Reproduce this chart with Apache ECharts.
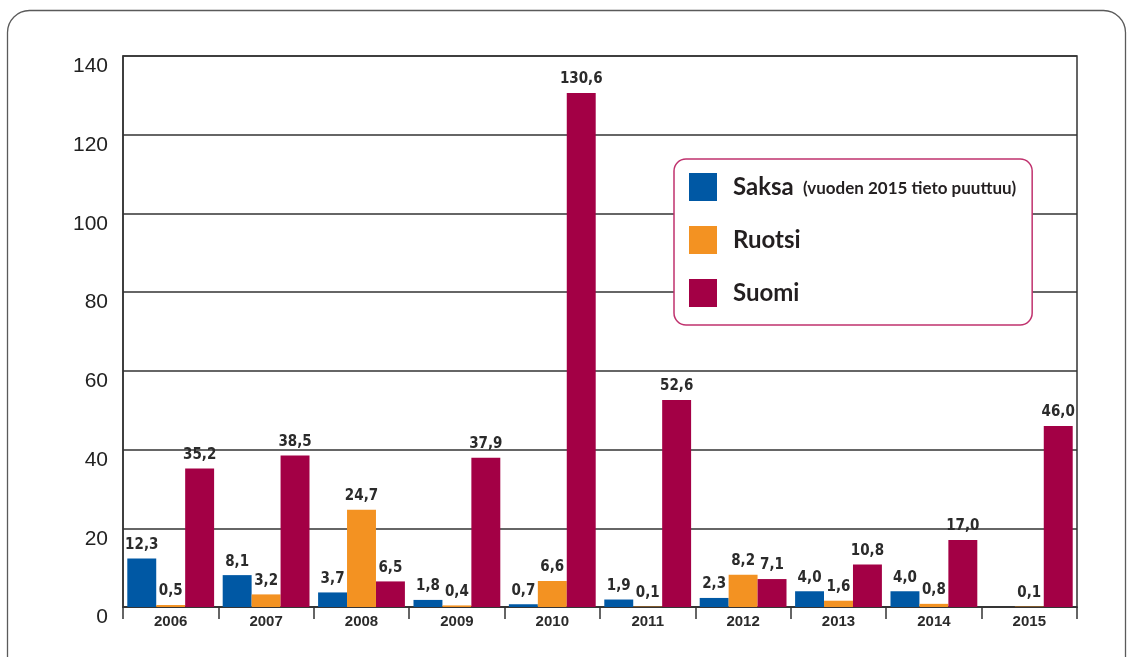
<!DOCTYPE html>
<html><head><meta charset="utf-8">
<script src="https://cdn.jsdelivr.net/npm/echarts@6/dist/echarts.min.js"></script>
<style>html,body{margin:0;padding:0;background:#fff}#c{width:1132px;height:657px}</style>
</head><body><div id="c"></div>
<script>
const categories = ['2006','2007','2008','2009','2010','2011','2012','2013','2014','2015'];
const saksa = [12.3, 8.1, 3.7, 1.8, 0.7, 1.9, 2.3, 4.0, 4.0, null];
const ruotsi = [0.5, 3.2, 24.7, 0.4, 6.6, 0.1, 8.2, 1.6, 0.8, 0.1];
const suomi = [35.2, 38.5, 6.5, 37.9, 130.6, 52.6, 7.1, 10.8, 17.0, 46.0];
const seriesNames = ['Saksa', 'Ruotsi', 'Suomi'];
const legendNote = '(vuoden 2015 tieto puuttuu)';
const colors = ['#0058a4', '#f39222', '#a30045'];

const fmt = p => (p.value == null ? '' : p.value.toFixed(1).replace('.', ','));
const labelStyle = {
  show: true, position: 'top', distance: 6, formatter: fmt,
  fontFamily: '"DejaVu Sans Condensed", "Liberation Sans", Arial', fontWeight: 'bold',
  fontSize: 15, color: '#2b2b2b'
};
const chart = echarts.init(document.getElementById('c'), null, {renderer: 'canvas'});
chart.setOption({
  animation: false,
  color: colors,
  graphic: [{
    type: 'rect', z: -10, silent: true,
    shape: {x: 7.5, y: 10.5, width: 1118, height: 700, r: 22},
    style: {fill: 'none', stroke: '#5a5a5a', lineWidth: 1.3}
  }],
  grid: {left: 123, right: 55, top: 56, bottom: 50, show: true, borderColor: '#333', borderWidth: 1.5, backgroundColor: 'transparent'},
  legend: {
    orient: 'vertical', left: 674, top: 159,
    padding: [14, 16, 18, 15], itemGap: 25, itemWidth: 28, itemHeight: 28,
    icon: 'rect', borderColor: '#c0326e', borderWidth: 1.5, borderRadius: 12,
    backgroundColor: '#fff',
    data: seriesNames,
    formatter: n => n === 'Saksa' ? '{a|' + n + '}{b| ' + legendNote + '}' : '{a|' + n + '}',
    textStyle: {
      rich: {
        a: {fontFamily: 'Lato, "Open Sans", sans-serif', fontWeight: 'bold', fontSize: 24, color: '#231f20', padding: [0, 0, 0, 11]},
        b: {fontFamily: 'Lato, "Open Sans", sans-serif', fontWeight: 'bold', fontSize: 17, color: '#231f20', padding: [3, 0, 0, 5]}
      }
    }
  },
  xAxis: {
    type: 'category', data: categories,
    axisLine: {show: true, lineStyle: {color: '#333', width: 1.5}},
    axisTick: {show: true, length: 12, lineStyle: {color: '#333', width: 1.5}},
    axisLabel: {fontFamily: '"Liberation Sans", Arial', fontWeight: 'bold', fontSize: 15, color: '#2b2b2b', margin: 7},
    splitLine: {show: false}
  },
  yAxis: {
    type: 'value', min: 0, max: 140, interval: 20,
    axisLine: {show: true, lineStyle: {color: '#333', width: 1.5}},
    axisTick: {show: false},
    axisLabel: {fontFamily: '"Liberation Sans", Arial', fontSize: 21, color: '#222', margin: 15, verticalAlign: 'top'},
    splitLine: {show: true, lineStyle: {color: '#333', width: 1.5}}
  },
  series: [
    {name: seriesNames[0], type: 'bar', data: saksa, barGap: '0%', barCategoryGap: '9%', label: labelStyle},
    {name: seriesNames[1], type: 'bar', data: ruotsi, barGap: '0%', barCategoryGap: '9%', label: labelStyle},
    {name: seriesNames[2], type: 'bar', data: suomi, barGap: '0%', barCategoryGap: '9%', label: labelStyle}
  ]
});
</script></body></html>
